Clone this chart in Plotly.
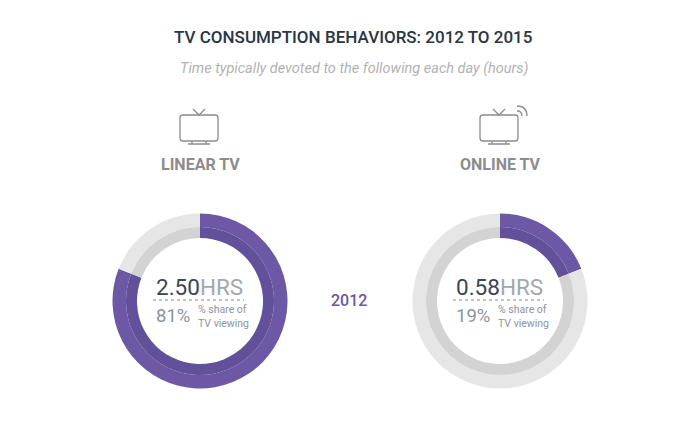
import plotly.graph_objects as go

# -------------------------------------------------------
# Datos
# -------------------------------------------------------
categorias = ["LINEAR TV", "ONLINE TV"]
horas = [2.50, 0.58]
porc_share = [81, 19]
anio = "2012"

W, H = 700, 430
OFF = 8  # margen del body en la pagina

PURPURA = "#6c58a4"
PURPURA_INT = "#62509a"
GRIS = "#e6e6e6"
GRIS_INT = "#d3d3d3"


def px(x):
    return (x - OFF) / W


def py(y):
    return 1 - (y - OFF) / H


def dominio(cx, cy, r):
    return dict(x=[px(cx - r), px(cx + r)], y=[py(cy + r), py(cy - r)])


centros = [(200, 301), (500, 301)]
R_EXT, R_MED, R_INT = 87.5, 74, 63

fig = go.Figure()

# -------------------------------------------------------
# Donas (anillo exterior + anillo interior)
# -------------------------------------------------------
for (cx, cy), s in zip(centros, porc_share):
    fig.add_trace(go.Pie(
        values=[s, 100 - s],
        sort=False, direction="clockwise", rotation=0,
        hole=R_MED / R_EXT,
        marker=dict(colors=[PURPURA, GRIS], line=dict(width=0)),
        textinfo="none", hoverinfo="skip", showlegend=False,
        domain=dominio(cx, cy, R_EXT),
    ))
    fig.add_trace(go.Pie(
        values=[s, 100 - s],
        sort=False, direction="clockwise", rotation=0,
        hole=R_INT / R_MED,
        marker=dict(colors=[PURPURA_INT, GRIS_INT], line=dict(width=0)),
        textinfo="none", hoverinfo="skip", showlegend=False,
        domain=dominio(cx, cy, R_MED),
    ))

anotaciones = []
shapes = []

# -------------------------------------------------------
# Titulos
# -------------------------------------------------------
anotaciones.append(dict(
    x=px(353), y=py(37), text="TV CONSUMPTION BEHAVIORS: 2012 TO 2015",
    font=dict(size=17, color="#2b3644", family="Roboto Medium, Roboto"),
))
anotaciones.append(dict(
    x=px(354), y=py(68), text="<i>Time typically devoted to the following each day (hours)</i>",
    font=dict(size=14.5, color="#b2b2b2", family="Roboto"),
))
anotaciones.append(dict(
    x=px(349), y=py(300), text=anio,
    font=dict(size=16, color=PURPURA, family="Roboto Medium, Roboto"),
))

# -------------------------------------------------------
# Textos de cada dona
# -------------------------------------------------------
for (cx, cy), cat, h, s in zip(centros, categorias, horas, porc_share):
    anotaciones.append(dict(
        x=px(cx), y=py(164), text="<b>" + cat + "</b>",
        font=dict(size=16, color="#8c8c8c", family="Roboto"),
    ))
    anotaciones.append(dict(
        x=px(cx - 46), y=py(287), xanchor="left",
        text=f"<span style='color:#3a4452'>{h:.2f}</span><span style='color:#a3a7ad'>HRS</span>",
        font=dict(size=22.5, family="Roboto"),
    ))
    anotaciones.append(dict(
        x=px(cx - 46), y=py(316), xanchor="left",
        text=f"{s}%",
        font=dict(size=18.5, color="#8d949d", family="Roboto"),
    ))
    anotaciones.append(dict(
        x=px(cx - 4), y=py(316), xanchor="left",
        text="% share of<br>TV viewing",
        font=dict(size=10.5, color="#8d949d", family="Roboto"),
        align="left",
    ))
    shapes.append(dict(
        type="line", xref="paper", yref="paper",
        x0=px(cx - 47), x1=px(cx + 44), y0=py(300), y1=py(300),
        line=dict(color="#8a8a8a", width=1, dash="dot"),
    ))

    # icono de televisor
    x0, x1, y0, y1, r = cx - 20, cx + 18, 115, 141, 3
    caja = (
        f"M {px(x0 + r)} {py(y0)} L {px(x1 - r)} {py(y0)} "
        f"Q {px(x1)} {py(y0)} {px(x1)} {py(y0 + r)} L {px(x1)} {py(y1 - r)} "
        f"Q {px(x1)} {py(y1)} {px(x1 - r)} {py(y1)} L {px(x0 + r)} {py(y1)} "
        f"Q {px(x0)} {py(y1)} {px(x0)} {py(y1 - r)} L {px(x0)} {py(y0 + r)} "
        f"Q {px(x0)} {py(y0)} {px(x0 + r)} {py(y0)} Z"
    )
    antena = (
        f"M {px(cx - 7)} {py(109)} L {px(cx - 1)} {py(115)} L {px(cx + 5)} {py(109)}"
    )
    base = (
        f"M {px(cx - 12)} {py(144)} L {px(cx + 10)} {py(144)} "
        f"M {px(cx - 8)} {py(141)} L {px(cx - 8)} {py(144)} "
        f"M {px(cx + 6)} {py(141)} L {px(cx + 6)} {py(144)}"
    )
    for p in (caja, antena, base):
        shapes.append(dict(type="path", xref="paper", yref="paper", path=p,
                           line=dict(color="#8c8c8c", width=1.3)))

# ondas wifi del icono online
cx = centros[1][0]
for k in (0, 1):
    d = 5 + 5 * k
    ox, oy = cx + 17, 116
    shapes.append(dict(
        type="path", xref="paper", yref="paper",
        path=f"M {px(ox)} {py(oy - d)} Q {px(ox + d)} {py(oy - d)} {px(ox + d)} {py(oy)}",
        line=dict(color="#8c8c8c", width=1.3),
    ))

for a in anotaciones:
    a.update(xref="paper", yref="paper", showarrow=False)
    a.setdefault("xanchor", "center")
    a.setdefault("yanchor", "middle")

fig.update_layout(
    width=W, height=H,
    margin=dict(l=0, r=0, t=0, b=0),
    paper_bgcolor="white", plot_bgcolor="white",
    annotations=anotaciones, shapes=shapes,
    font=dict(family="Roboto"),
)

fig.write_html("out.html")
